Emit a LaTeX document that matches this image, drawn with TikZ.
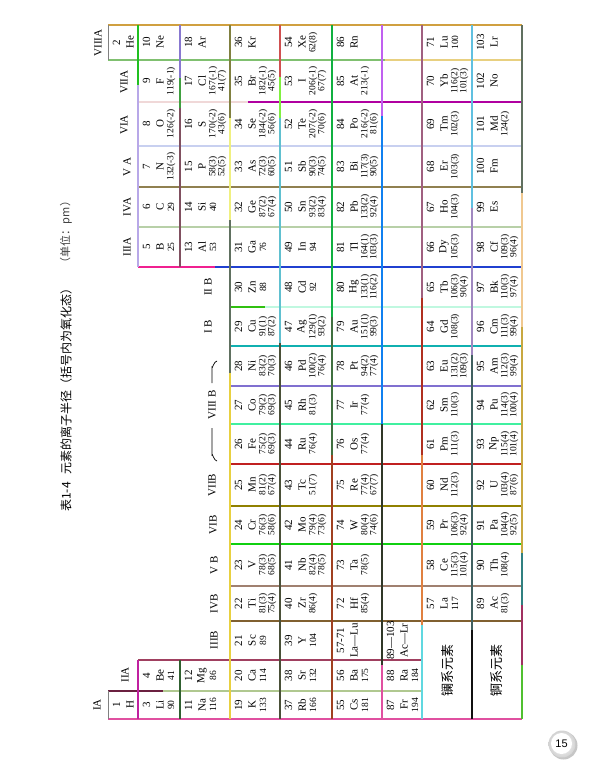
\documentclass[tikz,border=0pt]{standalone}
\usepackage{fontspec}
\setmainfont{Liberation Serif}
\setsansfont{Liberation Sans}
\newfontfamily\cjk{Noto Sans CJK SC}
\newcommand\vs[4]{\definecolor{segc}{HTML}{#4}\draw[seg,segc] (#1,#2) -- (#1,#3);}
\newcommand\hs[4]{\definecolor{segc}{HTML}{#4}\draw[seg,segc] (#2,#1) -- (#3,#1);}
\newcommand\el[7]{%
  \node[numtxt] (n#1) at ({#2+8.5},#3) {#4};
  \node[numtxt] (s#1) at ({#2+22},#3) {#5};
  \node[radtxt] (a#1) at ({#2+33},#3) {#6};
  \node[radtxt] (b#1) at ({#2+42},#3) {#7};}
\begin{document}
\begin{tikzpicture}[x=1pt,y=-1pt,
  seg/.style={line width=2pt},
  numtxt/.style={rotate=90,inner sep=0pt,font=\fontsize{11}{11}\selectfont},
  radtxt/.style={rotate=90,inner sep=0pt,font=\fontsize{9.5}{9.5}\selectfont},
  glab/.style={rotate=90,inner sep=0pt,font=\fontsize{11}{11}\selectfont},
  cjklab/.style={rotate=90,inner sep=0pt,font=\cjk\fontsize{12}{12}\selectfont}]
\useasboundingbox (0,0) rectangle (589,768);
% title
\node[cjklab] (t1) at (66,497) {表1-4};
\node[cjklab] (t2) at (66,378) {元素的离子半径（括号内为氧化态）};
\node[cjklab,font=\cjk\fontsize{11}{11}\selectfont,text=black!75] (t3) at (66,232) {（单位：pm）};
% horizontal lines
\hs{25}{108}{522}{D0A040}
\hs{60}{108}{385}{80C070}
\hs{60}{385}{522}{E8D080}
\hs{102}{138}{248}{F0D8D8}
\hs{102}{248}{522}{B000A0}
\hs{146}{138}{522}{C8D0F0}
\hs{187}{138}{522}{908050}
\hs{227}{138}{522}{B8D0A8}
\hs{267}{138}{215}{F02090}
\hs{267}{215}{522}{2040D0}
\hs{307}{229}{265}{30C010}
\hs{307}{265}{522}{C0F8E0}
\hs{346}{229}{522}{10B0B0}
\hs{386}{230}{522}{8070D0}
\hs{424}{230}{522}{40F0A0}
\hs{464}{230}{522}{C02020}
\hs{506}{230}{522}{908000}
\hs{544}{230}{522}{10D010}
\hs{586}{230}{522}{A08070}
\hs{621}{230}{522}{806030}
\hs{660}{138}{422}{A04060}
\hs{691}{108}{163}{6B2040}
\hs{691}{163}{422}{B0C890}
\hs{719}{108}{522}{E050A0}
% vertical lines
\draw[gray,line width=0.8pt] (108,25) -- (108,60);
\draw[gray,line width=0.8pt] (108,691) -- (108,719);
\vs{138}{25}{85}{20C020}
\vs{138}{85}{267}{B8A8E8}
\vs{138}{660}{719}{C020A0}
\vs{180}{25}{78}{8878D0}
\vs{180}{78}{108}{40A040}
\vs{180}{108}{267}{805060}
\vs{180}{660}{719}{306030}
\vs{230}{25}{118}{808040}
\vs{230}{118}{220}{F0F080}
\vs{230}{220}{373}{607060}
\vs{230}{373}{719}{E8D040}
\vs{280}{25}{77}{D05050}
\vs{280}{77}{118}{80F040}
\vs{280}{118}{343}{60C0D0}
\vs{280}{343}{719}{4A5038}
\vs{332}{25}{317}{10B040}
\vs{332}{317}{455}{407040}
\vs{332}{455}{719}{A04020}
\vs{382}{25}{116}{C060F0}
\vs{382}{116}{424}{1080F0}
\vs{382}{424}{665}{303828}
\vs{382}{665}{719}{E050A0}
\vs{422}{25}{298}{A06080}
\vs{422}{298}{455}{B03020}
\vs{422}{455}{625}{E08040}
\vs{422}{625}{719}{60D8E0}
\vs{472}{25}{208}{60C0E0}
\vs{472}{208}{355}{A088C0}
\vs{472}{355}{630}{406060}
\vs{472}{630}{719}{101010}
\vs{522}{25}{193}{607060}
\vs{522}{193}{327}{F0C890}
\vs{522}{327}{553}{C8A840}
\vs{522}{553}{605}{308080}
\vs{522}{605}{665}{A03060}
\vs{522}{665}{719}{50C030}
% group labels
\node[glab] (gIA) at (97,705) {IA};
\node[glab] (gIIA) at (125,675) {IIA};
\node[glab] (gIIIB) at (214,640) {IIIB};
\node[glab] (gIVB) at (214,604) {IVB};
\node[glab] (gVB) at (214,565) {V B};
\node[glab] (gVIB) at (213,525) {VIB};
\node[glab] (gVIIB) at (212,485) {VIIB};
\node[glab] (gVIII) at (212,405) {VIII B};
\draw[line width=0.7pt] (217,461) to[out=180,in=90] (212,455) -- (212,428);
\draw[line width=0.7pt] (217,361) to[out=180,in=-90] (212,367) -- (212,383);
\node[glab] (gIB) at (208,327) {I B};
\node[glab] (gIIB) at (208,287) {II B};
\node[glab] (gIIIA) at (127,247) {IIIA};
\node[glab] (gIVA) at (127,207) {IVA};
\node[glab] (gVA) at (127,167) {V A};
\node[glab] (gVIA) at (124,125) {VIA};
\node[glab] (gVIIA) at (124,82) {VIIA};
\node[glab] (gVIIIA) at (98,43) {VIIIA};
% period 1
\el{1}{108}{705}{1}{H}{}{}
\el{2}{108}{42.5}{2}{He}{}{}
% period 2
\el{3}{138}{705}{3}{Li}{90}{}
\el{4}{138}{675.5}{4}{Be}{41}{}
\el{5}{138}{247}{5}{B}{25}{}
\el{6}{138}{207}{6}{C}{29}{}
\el{7}{138}{166.5}{7}{N}{132(-3)}{}
\el{8}{138}{124}{8}{O}{126(-2)}{}
\el{9}{138}{81}{9}{F}{119(-1)}{}
\el{10}{138}{42.5}{10}{Ne}{}{}
% period 3
\el{11}{180}{705}{11}{Na}{116}{}
\el{12}{180}{675.5}{12}{Mg}{86}{}
\el{13}{180}{247}{13}{Al}{53}{}
\el{14}{180}{207}{14}{Si}{40}{}
\el{15}{180}{166.5}{15}{P}{58(3)}{52(5)}
\el{16}{180}{124}{16}{S}{170(-2)}{43(6)}
\el{17}{180}{81}{17}{Cl}{167(-1)}{41(7)}
\el{18}{180}{42.5}{18}{Ar}{}{}
% period 4
\el{19}{230}{705}{19}{K}{133}{}
\el{20}{230}{675.5}{20}{Ca}{114}{}
\el{21}{230}{640.5}{21}{Sc}{89}{}
\el{22}{230}{603.5}{22}{Ti}{81(3)}{75(4)}
\el{23}{230}{565}{23}{V}{78(3)}{68(5)}
\el{24}{230}{525}{24}{Cr}{76(3)}{58(6)}
\el{25}{230}{485}{25}{Mn}{81(2)}{67(4)}
\el{26}{230}{444}{26}{Fe}{75(2)}{69(3)}
\el{27}{230}{405}{27}{Co}{79(2)}{69(3)}
\el{28}{230}{366}{28}{Ni}{83(2)}{70(3)}
\el{29}{230}{326.5}{29}{Cu}{91(1)}{87(2)}
\el{30}{230}{287}{30}{Zn}{88}{}
\el{31}{230}{247}{31}{Ga}{76}{}
\el{32}{230}{207}{32}{Ge}{87(2)}{67(4)}
\el{33}{230}{166.5}{33}{As}{72(3)}{60(5)}
\el{34}{230}{124}{34}{Se}{184(-2)}{56(6)}
\el{35}{230}{81}{35}{Br}{182(-1)}{45(5)}
\el{36}{230}{42.5}{36}{Kr}{}{}
% period 5
\el{37}{280}{705}{37}{Rb}{166}{}
\el{38}{280}{675.5}{38}{Sr}{132}{}
\el{39}{280}{640.5}{39}{Y}{104}{}
\el{40}{280}{603.5}{40}{Zr}{86(4)}{}
\el{41}{280}{565}{41}{Nb}{82(4)}{78(5)}
\el{42}{280}{525}{42}{Mo}{79(4)}{73(6)}
\el{43}{280}{485}{43}{Tc}{51(7)}{}
\el{44}{280}{444}{44}{Ru}{76(4)}{}
\el{45}{280}{405}{45}{Rh}{81(3)}{}
\el{46}{280}{366}{46}{Pd}{100(2)}{76(4)}
\el{47}{280}{326.5}{47}{Ag}{129(1)}{93(2)}
\el{48}{280}{287}{48}{Cd}{92}{}
\el{49}{280}{247}{49}{In}{94}{}
\el{50}{280}{207}{50}{Sn}{93(2)}{83(4)}
\el{51}{280}{166.5}{51}{Sb}{90(3)}{74(5)}
\el{52}{280}{124}{52}{Te}{207(-2)}{70(6)}
\el{53}{280}{81}{53}{I}{206(-1)}{67(7)}
\el{54}{280}{42.5}{54}{Xe}{62(8)}{}
% period 6
\el{55}{332}{705}{55}{Cs}{181}{}
\el{56}{332}{675.5}{56}{Ba}{175}{}
\el{LaLu}{332}{640.5}{57-71}{La—Lu}{}{}
\el{72}{332}{603.5}{72}{Hf}{85(4)}{}
\el{73}{332}{565}{73}{Ta}{78(5)}{}
\el{74}{332}{525}{74}{W}{80(4)}{74(6)}
\el{75}{332}{485}{75}{Re}{77(4)}{67(7)}
\el{76}{332}{444}{76}{Os}{77(4)}{}
\el{77}{332}{405}{77}{Ir}{77(4)}{}
\el{78}{332}{366}{78}{Pt}{94(2)}{77(4)}
\el{79}{332}{326.5}{79}{Au}{151(1)}{99(3)}
\el{80}{332}{287}{80}{Hg}{133(1)}{116(2)}
\el{81}{332}{247}{81}{Tl}{164(1)}{103(3)}
\el{82}{332}{207}{82}{Pb}{133(2)}{92(4)}
\el{83}{332}{166.5}{83}{Bi}{117(3)}{90(5)}
\el{84}{332}{124}{84}{Po}{216(-2)}{81(6)}
\el{85}{332}{81}{85}{At}{213(-1)}{}
\el{86}{332}{42.5}{86}{Rn}{}{}
% period 7
\el{87}{382}{705}{87}{Fr}{194}{}
\el{88}{382}{675.5}{88}{Ra}{184}{}
\el{AcLr}{382}{640.5}{89—103}{Ac—Lr}{}{}
% lanthanides
\node[cjklab,font=\cjk\fontsize{13}{13}\selectfont] (lan) at (448,670) {镧系元素};
\el{57}{422}{603.5}{57}{La}{117}{}
\el{58}{422}{565}{58}{Ce}{115(3)}{101(4)}
\el{59}{422}{525}{59}{Pr}{106(3)}{92(4)}
\el{60}{422}{485}{60}{Nd}{112(3)}{}
\el{61}{422}{444}{61}{Pm}{111(3)}{}
\el{62}{422}{405}{62}{Sm}{110(3)}{}
\el{63}{422}{366}{63}{Eu}{131(2)}{109(3)}
\el{64}{422}{326.5}{64}{Gd}{108(3)}{}
\el{65}{422}{287}{65}{Tb}{106(3)}{90(4)}
\el{66}{422}{247}{66}{Dy}{105(3)}{}
\el{67}{422}{207}{67}{Ho}{104(3)}{}
\el{68}{422}{166.5}{68}{Er}{103(3)}{}
\el{69}{422}{124}{69}{Tm}{102(3)}{}
\el{70}{422}{81}{70}{Yb}{116(2)}{101(3)}
\el{71}{422}{42.5}{71}{Lu}{100}{}
% actinides
\node[cjklab,font=\cjk\fontsize{13}{13}\selectfont] (act) at (497,670) {锕系元素};
\el{89}{472}{603.5}{89}{Ac}{81(3)}{}
\el{90}{472}{565}{90}{Th}{108(4)}{}
\el{91}{472}{525}{91}{Pa}{104(4)}{92(5)}
\el{92}{472}{485}{92}{U}{103(4)}{87(6)}
\el{93}{472}{444}{93}{Np}{115(4)}{101(4)}
\el{94}{472}{405}{94}{Pu}{114(3)}{100(4)}
\el{95}{472}{366}{95}{Am}{112(3)}{99(4)}
\el{96}{472}{326.5}{96}{Cm}{111(3)}{99(4)}
\el{97}{472}{287}{97}{Bk}{110(3)}{97(4)}
\el{98}{472}{247}{98}{Cf}{109(3)}{96(4)}
\el{99}{472}{207}{99}{Es}{}{}
\el{100}{472}{166.5}{100}{Fm}{}{}
\el{101}{472}{124}{101}{Md}{124(2)}{}
\el{102}{472}{81}{102}{No}{}{}
\el{103}{472}{42.5}{103}{Lr}{}{}
% page number
\fill[gray!45] (563.5,745.5) circle (14);
\shade[inner color=white,outer color=gray!35] (562,744) circle (13.5);
\fill[white] (561.5,743.5) circle (10.5);
\node[font=\sffamily\fontsize{11}{11}\selectfont,inner sep=0pt] (pg) at (561.5,744) {15};
\end{tikzpicture}
\end{document}
